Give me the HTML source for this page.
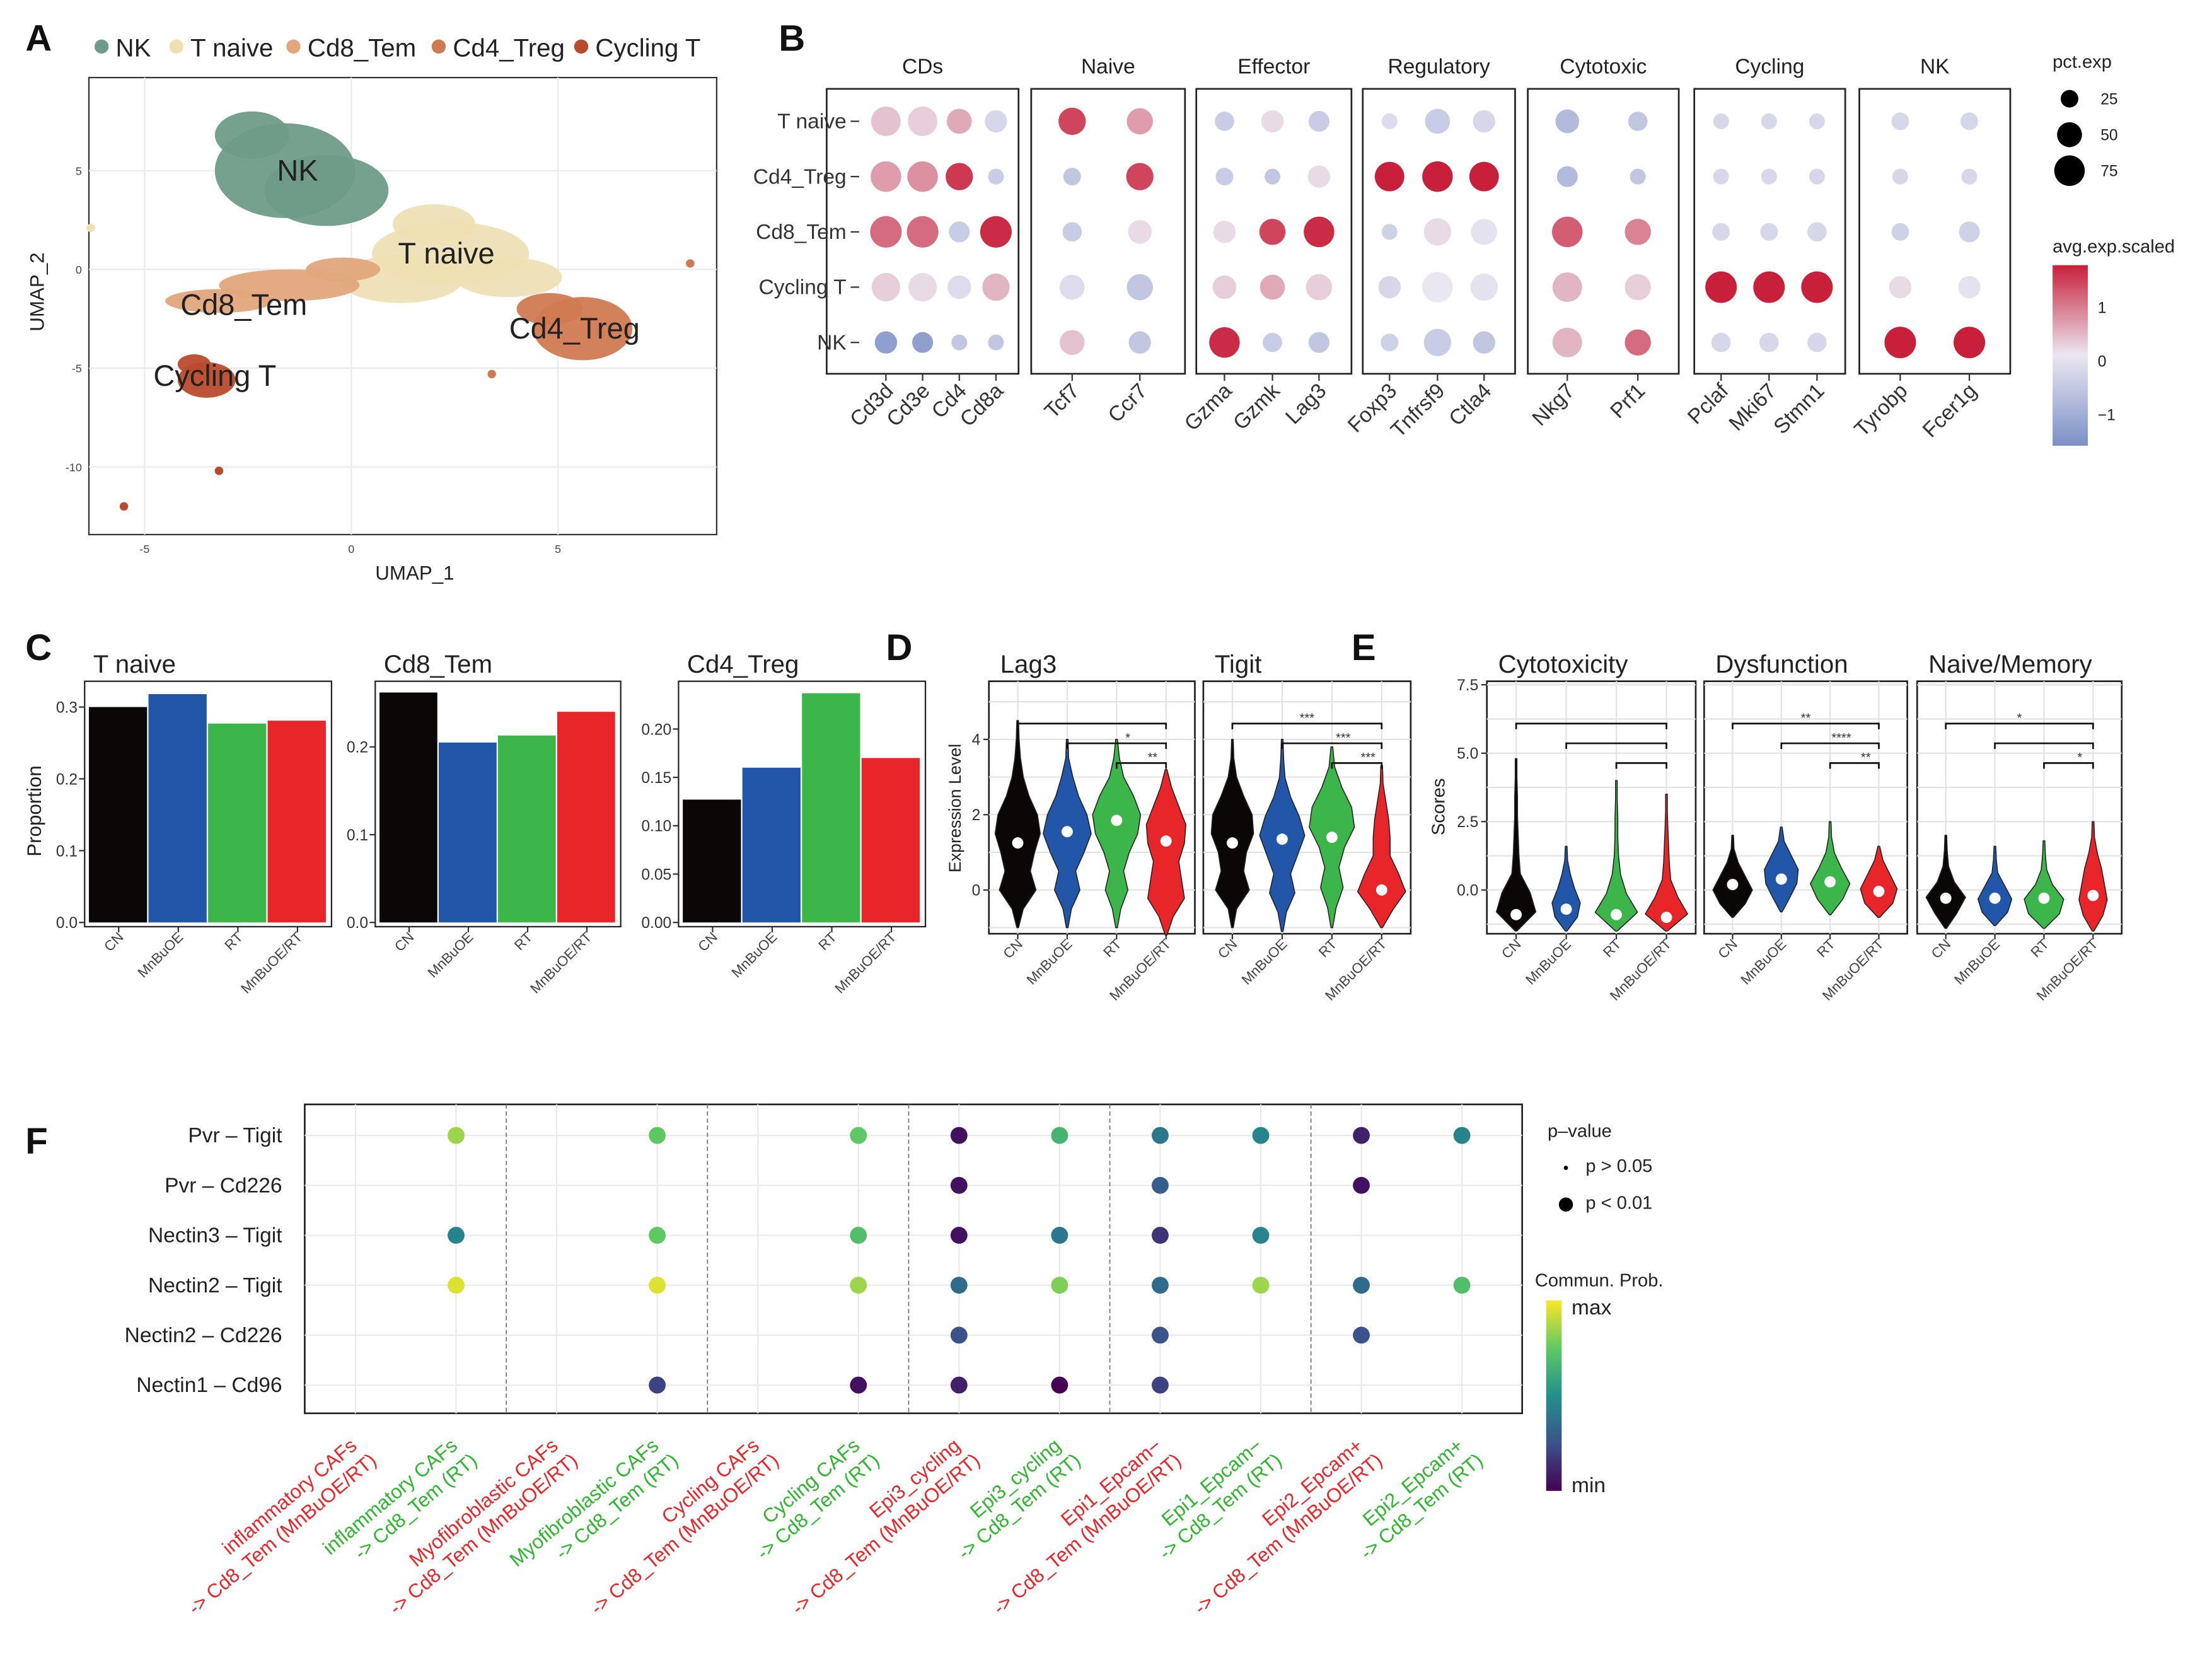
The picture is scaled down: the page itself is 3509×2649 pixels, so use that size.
<!DOCTYPE html>
<html><head><meta charset="utf-8"><style>
html,body{margin:0;padding:0;background:#fff;}
svg{display:block;font-family:"Liberation Sans",sans-serif;}
</style></head><body>
<svg id="fig" width="3509" height="2649" viewBox="0 0 1568 1184" preserveAspectRatio="none" xmlns="http://www.w3.org/2000/svg">
<rect x="0" y="0" width="1568" height="1184" fill="#fff"/>
<g id="gA"></g>
<g id="gB"></g>
<g id="gC"></g>
<g id="gD"></g>
<g id="gE"></g>
<g id="gF"></g>
</svg>
<script>
// ---------- DATA ----------
const umapNames = ["NK","T naive","Cd8_Tem","Cd4_Treg","Cycling T"];
const umapColors = ["#6f9c88","#efe0b4","#e2a77c","#d07a52","#b94b2d"];
const umapBlobs = [
 [0,-1.6,5.0,1.7,2.4],[0,-0.6,4.0,1.5,1.8],[0,-2.4,6.8,0.9,1.2],
 [1,2.4,0.8,1.9,1.6],[1,1.2,-0.5,1.5,1.2],[1,3.8,-0.4,1.3,1.0],[1,2.0,2.3,1.0,1.0],
 [2,-1.5,-0.8,1.7,0.8],[2,-3.2,-1.6,1.3,0.6],[2,-0.2,0.0,0.9,0.6],
 [3,5.6,-3.0,1.2,1.6],[3,4.8,-2.0,0.8,0.8],
 [4,-3.5,-5.6,0.7,0.9],[4,-3.8,-4.8,0.4,0.5]
];
const umapLabels = [["NK",-1.3,5.0],["T naive",2.3,0.8],["Cd8_Tem",-2.6,-1.8],["Cd4_Treg",5.4,-3.0],["Cycling T",-3.3,-5.4]];
const bRows = ["T naive","Cd4_Treg","Cd8_Tem","Cycling T","NK"];
const bGenes = ["Cd3d","Cd3e","Cd4","Cd8a","Tcf7","Ccr7","Gzma","Gzmk","Lag3","Foxp3","Tnfrsf9","Ctla4","Nkg7","Prf1","Pclaf","Mki67","Stmn1","Tyrobp","Fcer1g"];
const bGroups = ["CDs","Naive","Effector","Regulatory","Cytotoxic","Cycling","NK"];
const bGroupSizes = [4,2,3,3,2,3,2];
const bAvg = [
 [0.3,0.2,0.5,-0.3, 1.3,0.6, -0.5,0.1,-0.5, -0.2,-0.5,-0.3, -0.8,-0.6, -0.3,-0.3,-0.3, -0.3,-0.3],
 [0.6,0.7,1.4,-0.5, -0.6,1.3, -0.5,-0.6,0.1, 1.6,1.6,1.6, -0.8,-0.6, -0.3,-0.3,-0.3, -0.3,-0.3],
 [1.0,1.0,-0.5,1.5, -0.5,0.1, 0.1,1.3,1.5, -0.4,0.1,-0.1, 1.1,0.8, -0.3,-0.3,-0.3, -0.4,-0.4],
 [0.2,0.1,-0.2,0.4, -0.2,-0.6, 0.2,0.5,0.2, -0.3,0.0,-0.1, 0.4,0.2, 1.6,1.6,1.6, 0.1,-0.1],
 [-1.3,-1.3,-0.6,-0.6, 0.3,-0.6, 1.5,-0.5,-0.6, -0.4,-0.5,-0.6, 0.4,1.0, -0.3,-0.3,-0.3, 1.6,1.6]
];
const bPct = [
 [70,70,50,40, 60,55, 30,40,35, 20,50,40, 45,30, 20,20,20, 25,25],
 [75,75,60,20, 25,60, 25,20,40, 70,75,70, 35,20, 20,20,20, 20,20],
 [80,80,35,80, 30,45, 40,55,75, 20,60,55, 75,55, 25,25,30, 25,35],
 [65,65,45,60, 50,55, 45,50,55, 40,75,60, 70,55, 80,80,80, 40,40],
 [40,35,20,20, 50,40, 75,30,35, 25,60,40, 70,55, 30,30,30, 80,80]
];
const conds = ["CN","MnBuOE","RT","MnBuOE/RT"];
const condColors = ["#0b0707","#2256a8","#3cb64b","#e8262a"];
const cTitles = ["T naive","Cd8_Tem","Cd4_Treg"];
const cVals = [[0.300,0.318,0.277,0.281],[0.262,0.205,0.213,0.240],[0.127,0.160,0.237,0.170]];
const cTicks = [[0.0,0.1,0.2,0.3],[0.0,0.1,0.2],[0.00,0.05,0.10,0.15,0.20]];
const cMax = [0.33,0.27,0.245];
const dTitles = ["Lag3","Tigit"];
const dTicks = [0,2,4];
const dViol = [
 [[-1.0,4.5,1.25,[0,4,13,9,12,16,14,8,4,2,1,0]],[-1.0,4.0,1.55,[0,3,9,6,12,17,14,8,4,1,0]],[-1.0,4.0,1.85,[0,3,8,5,9,15,17,12,5,2,0]],[-1.2,3.2,1.30,[0,5,13,11,9,13,14,9,4,0]]],
 [[-1.0,4.0,1.25,[0,3,12,8,10,15,14,8,3,1,0]],[-1.1,4.0,1.35,[0,3,9,6,11,16,12,6,2,1,0]],[-1.0,3.8,1.40,[0,3,8,5,9,16,14,7,2,0]],[-1.0,3.3,0.0,[0,8,17,12,6,6,5,3,1,0]]]
];
const dSig = [["","*","**"],["***","***","***"]];
const eTitles = ["Cytotoxicity","Dysfunction","Naive/Memory"];
const eTicks = [0.0,2.5,5.0,7.5];
const eViol = [
 [[-1.5,4.8,-0.9,[0,14,10,3,2,1.5,1,1,0.5,0]],[-1.5,1.6,-0.7,[0,8,10,6,3,1,0]],[-1.5,4.0,-0.9,[0,15,7,3,1.5,1,1,0.5,0]],[-1.5,3.5,-1.0,[0,15,8,3,2,1.5,1,0.5,0]]],
 [[-1.0,2.0,0.2,[0,9,14,9,4,1,0]],[-0.8,2.3,0.4,[0,6,11,12,7,2,0]],[-0.9,2.5,0.3,[0,9,14,8,3,1,0]],[-1.0,1.6,-0.05,[0,10,13,8,3,0]]],
 [[-1.4,2.0,-0.3,[0,8,14,6,2,1,0]],[-1.3,1.6,-0.3,[0,9,12,7,2,1,0]],[-1.4,1.8,-0.3,[0,11,14,6,2,1,0]],[-1.5,2.5,-0.2,[0,7,10,8,6,3,1,0]]]
];
const eSig = [["","",""],["**","****","**"],["*","","*"]];
const fRows = ["Pvr  – Tigit","Pvr  – Cd226","Nectin3  – Tigit","Nectin2  – Tigit","Nectin2  – Cd226","Nectin1  – Cd96"];
const fCols1 = ["inflammatory CAFs","inflammatory CAFs","Myofibroblastic CAFs","Myofibroblastic CAFs","Cycling CAFs","Cycling CAFs","Epi3_cycling","Epi3_cycling","Epi1_Epcam−","Epi1_Epcam−","Epi2_Epcam+","Epi2_Epcam+"];
const fCols2 = ["-> Cd8_Tem (MnBuOE/RT)","-> Cd8_Tem (RT)","-> Cd8_Tem (MnBuOE/RT)","-> Cd8_Tem (RT)","-> Cd8_Tem (MnBuOE/RT)","-> Cd8_Tem (RT)","-> Cd8_Tem (MnBuOE/RT)","-> Cd8_Tem (RT)","-> Cd8_Tem (MnBuOE/RT)","-> Cd8_Tem (RT)","-> Cd8_Tem (MnBuOE/RT)","-> Cd8_Tem (RT)"];
const N = null;
const fProb = [
 [N,0.85,N,0.75,N,0.75,0.05,0.65,0.40,0.45,0.10,0.45],
 [N,N,N,N,N,N,0.05,N,0.30,N,0.05,N],
 [N,0.45,N,0.75,N,0.70,0.05,0.40,0.15,0.45,N,N],
 [N,0.95,N,0.95,N,0.85,0.35,0.80,0.35,0.85,0.35,0.70],
 [N,N,N,N,N,N,0.25,N,0.25,N,0.25,N],
 [N,N,N,0.20,N,0.05,0.10,0.00,0.20,N,N,N]
];

// ---------- HELPERS ----------
const NS="http://www.w3.org/2000/svg";
function mk(parent,tag,attrs,txt){const e=document.createElementNS(NS,tag);for(const k in attrs)e.setAttribute(k,attrs[k]);if(txt!==undefined)e.textContent=txt;parent.appendChild(e);return e;}
function lerp(a,b,t){return a+(b-a)*t;}
function hexRgb(h){return [parseInt(h.substr(1,2),16),parseInt(h.substr(3,2),16),parseInt(h.substr(5,2),16)];}
function grad(stops,t){t=Math.max(0,Math.min(1,t));const n=stops.length-1;const i=Math.min(n-1,Math.floor(t*n));const f=t*n-i;const a=hexRgb(stops[i]),b=hexRgb(stops[i+1]);return "rgb("+[0,1,2].map(k=>Math.round(lerp(a[k],b[k],f))).join(",")+")";}
function bCol(v){return grad(["#7b8fc6","#ebe7f1","#c8203a"],(v+1.6)/3.2);}
const vir=["#440154","#3b528b","#21918c","#5ec962","#fde725"];
function virCol(t){return grad(vir,t);}
function label(g,x,y,t,name){const e=mk(g,"text",{x:x,y:y,"font-size":26,"font-weight":"bold",fill:"#111"},t);}

// ---------- PANEL A ----------
(function(){
 const g=document.getElementById("gA");
 label(g,18,36,"A","panel-a-label");
 const lx=[72,125,208,311,412];
 umapNames.forEach((n,i)=>{
  const d=mk(g,"circle",{cx:lx[i],cy:33,r:5,fill:umapColors[i]});
  const t=mk(g,"text",{x:lx[i]+10,y:40,"font-size":18,fill:"#222"},n);
 });
 const x0=63,y0=55,w=445,h=324;
 const X=v=>249+v*29.3, Y=v=>191-v*14;
 const box=mk(g,"rect",{x:x0,y:y0,width:w,height:h,fill:"#fff",stroke:"#333","stroke-width":1});
 [-5,0,5].forEach(v=>{mk(g,"line",{x1:X(v),x2:X(v),y1:y0,y2:y0+h,stroke:"#ebebeb"});const t=mk(g,"text",{x:X(v),y:392,"font-size":8,"text-anchor":"middle",fill:"#444"},v);});
 [5,0,-5,-10].forEach(v=>{mk(g,"line",{x1:x0,x2:x0+w,y1:Y(v),y2:Y(v),stroke:"#ebebeb"});const t=mk(g,"text",{x:58,y:Y(v)+3,"font-size":8,"text-anchor":"end",fill:"#444"},v);});
 umapBlobs.forEach((b,i)=>{const e=mk(g,"ellipse",{cx:X(b[1]),cy:Y(b[2]),rx:b[3]*29.3,ry:b[4]*14,fill:umapColors[b[0]],"fill-opacity":0.95});});
 [[-5.5,-12,4],[-3.2,-10.2,4],[-6.3,2.1,1],[8.2,0.3,3],[3.4,-5.3,3]].forEach(p=>{mk(g,"circle",{cx:X(p[0]),cy:Y(p[1]),r:3,fill:umapColors[p[2]]});});
 umapLabels.forEach(l=>{const t=mk(g,"text",{x:X(l[1]),y:Y(l[2])+7,"font-size":21,"text-anchor":"middle",fill:"#222"},l[0]);});
 let t=mk(g,"text",{x:294,y:411,"font-size":14,"text-anchor":"middle",fill:"#222"},"UMAP_1");
 t=mk(g,"text",{x:0,y:0,"font-size":14,"text-anchor":"middle",fill:"#222",transform:"translate(31,207) rotate(-90)"},"UMAP_2");
})();

// ---------- PANEL B ----------
(function(){
 const g=document.getElementById("gB");
 label(g,552,36,"B","panel-b-label");
 const boxes=[[586,722],[731,840],[848,958],[966,1074],[1083,1190],[1201,1308],[1318,1425]];
 const geneX=[628,654,680,706,760,808,868,902,935,985,1019,1052,1111,1161,1220,1254,1288,1347,1396];
 const rowY=r=>86+r*39.2;
 bGroups.forEach((gr,k)=>{
  const b=mk(g,"rect",{x:boxes[k][0],y:63,width:boxes[k][1]-boxes[k][0],height:202,fill:"#fff",stroke:"#222","stroke-width":1.2});
  const t=mk(g,"text",{x:(boxes[k][0]+boxes[k][1])/2,y:52,"font-size":15,"text-anchor":"middle",fill:"#222"},gr);
 });
 bRows.forEach((r,i)=>{
  const t=mk(g,"text",{x:600,y:rowY(i)+5,"font-size":15,"text-anchor":"end",fill:"#333"},r);
  mk(g,"line",{x1:603,x2:609,y1:rowY(i),y2:rowY(i),stroke:"#333"});
 });
 bGenes.forEach((gn,j)=>{
  mk(g,"line",{x1:geneX[j],x2:geneX[j],y1:265,y2:270,stroke:"#333"});
  const t=mk(g,"text",{x:0,y:0,"font-size":15,"text-anchor":"end",fill:"#333",transform:`translate(${geneX[j]+6},${278}) rotate(-45)`},gn);
  bRows.forEach((r,i)=>{
   const c=mk(g,"circle",{cx:geneX[j],cy:rowY(i),r:Math.sqrt(bPct[i][j]/100)*12.5,fill:bCol(bAvg[i][j])});
   
   
  });
 });
 let t=mk(g,"text",{x:1455,y:48,"font-size":13,fill:"#222"},"pct.exp");
 [25,50,75].forEach((p,i)=>{const y=70+i*25.5;const c=mk(g,"circle",{cx:1467,cy:y,r:Math.sqrt(p/100)*12.5,fill:"#000"});const tt=mk(g,"text",{x:1489,y:y+4,"font-size":11,fill:"#222"},p);});
 t=mk(g,"text",{x:1455,y:179,"font-size":13,fill:"#222"},"avg.exp.scaled");
 const defs=mk(g,"defs",{});const lg=mk(defs,"linearGradient",{id:"bgrad",x1:0,y1:1,x2:0,y2:0});
 for(let k=0;k<=10;k++){mk(lg,"stop",{offset:k/10,"stop-color":bCol(-1.6+3.2*k/10)});}
 const bar=mk(g,"rect",{x:1455,y:188,width:25,height:128,fill:"url(#bgrad)"});
 [[1,218],[0,256],[-1,294]].forEach(a=>{const tt=mk(g,"text",{x:1487,y:a[1]+4,"font-size":11,fill:"#222"},a[0]===-1?"−1":a[0]);});
})();

// ---------- PANEL C ----------
(function(){
 const g=document.getElementById("gC");
 label(g,18,468,"C","panel-c-label");
 const boxes=[[60,235],[266,440],[481,656]];
 const top=483,bot=657;
 let t=mk(g,"text",{x:0,y:0,"font-size":14,"text-anchor":"middle",fill:"#222",transform:"translate(29,575) rotate(-90)"},"Proportion");
 cTitles.forEach((ti,k)=>{
  const [x0,x1]=boxes[k];
  const Y=v=>654-v/cMax[k]*(654-top-3);
  const tt=mk(g,"text",{x:x0+6,y:477,"font-size":18,fill:"#222"},ti);
  const bw=(x1-x0-6)/4;
  cVals[k].forEach((v,i)=>{
   const r=mk(g,"rect",{x:x0+3+i*bw,y:Y(v),width:bw-1,height:Y(0)-Y(v),fill:condColors[i]});
   
   
   const lt=mk(g,"text",{x:0,y:0,"font-size":10,"text-anchor":"end",fill:"#444",transform:`translate(${x0+3+(i+0.5)*bw+4},${665}) rotate(-45)`},conds[i]);
   mk(g,"line",{x1:x0+3+(i+0.5)*bw,x2:x0+3+(i+0.5)*bw,y1:bot,y2:bot+4,stroke:"#333"});
  });
  const b=mk(g,"rect",{x:x0,y:top,width:x1-x0,height:bot-top,fill:"none",stroke:"#222","stroke-width":1});
  cTicks[k].forEach(v=>{mk(g,"line",{x1:x0-4,x2:x0,y1:Y(v),y2:Y(v),stroke:"#333"});const lt=mk(g,"text",{x:x0-5,y:Y(v)+4,"font-size":11,"text-anchor":"end",fill:"#333"},k==2?v.toFixed(2):v.toFixed(1));});
 });
})();

// ---------- VIOLIN helper ----------
function violinPanel(g,boxes,titles,viols,sigs,ticks,Y,tickFmt,gridVals){
 const top=483,bot=662;
 titles.forEach((ti,k)=>{
  const [x0,x1]=boxes[k];
  const tt=mk(g,"text",{x:x0+8,y:477,"font-size":18,fill:"#222"},ti);
  const fr=mk(g,"rect",{x:x0,y:top,width:x1-x0,height:bot-top,fill:"#fff",stroke:"#222","stroke-width":1.2});
  const xs=[0,1,2,3].map(i=>x0+(x1-x0)*(0.14+i*0.24));
  gridVals.forEach(v=>mk(g,"line",{x1:x0,x2:x1,y1:Y(v),y2:Y(v),stroke:"#e3e3e3"}));
  xs.forEach(x=>mk(g,"line",{x1:x,x2:x,y1:top,y2:bot,stroke:"#e3e3e3"}));
  viols[k].forEach((v,i)=>{
   const [ymin,ymax,med,prof]=v;const n=prof.length-1;const cx=xs[i];
   let l=[],r=[];
   prof.forEach((w,j)=>{const yy=Y(ymin+(ymax-ymin)*j/n);r.push([cx+Math.max(w,0.6),yy]);l.push([cx-Math.max(w,0.6),yy]);});
   let d="M"+cx+","+Y(ymin);
   r.forEach(p=>d+=" L"+p[0].toFixed(1)+","+p[1].toFixed(1));
   d+=" L"+cx+","+Y(ymax);
   l.reverse().forEach(p=>d+=" L"+p[0].toFixed(1)+","+p[1].toFixed(1));
   d+="Z";
   const p=mk(g,"path",{d:d,fill:condColors[i],stroke:"#222","stroke-width":0.7,"stroke-linejoin":"round"});
   
   
   const m=mk(g,"circle",{cx:cx,cy:Y(med),r:4,fill:"#fff"});
   
   
   mk(g,"line",{x1:cx,x2:cx,y1:bot,y2:bot+4,stroke:"#333"});
   const lt=mk(g,"text",{x:0,y:0,"font-size":10,"text-anchor":"end",fill:"#444",transform:`translate(${cx+4},${670}) rotate(-45)`},conds[i]);
  });
  [[0,513],[1,527],[2,541]].forEach((b,j)=>{
   const xa=xs[b[0]],xb=xs[3],y=b[1];
   const br=mk(g,"path",{d:`M${xa},${y+4} L${xa},${y} L${xb},${y} L${xb},${y+4}`,fill:"none",stroke:"#111","stroke-width":1.2});
   if(sigs[k][j]){const st=mk(g,"text",{x:(xs[j]+xb)/2+(j==0?0:8),y:y-1,"font-size":9,"text-anchor":"middle",fill:"#333"},sigs[k][j]);}
  });
 });
 const x0=boxes[0][0];
 ticks.forEach(v=>{mk(g,"line",{x1:x0-4,x2:x0,y1:Y(v),y2:Y(v),stroke:"#333"});const lt=mk(g,"text",{x:x0-6,y:Y(v)+4,"font-size":11,"text-anchor":"end",fill:"#333"},tickFmt(v));});
}
(function(){
 const g=document.getElementById("gD");
 label(g,628,468,"D","panel-d-label");
 const Y=v=>631-v*26.7;
 violinPanel(g,[[701,847],[853,1000]],dTitles,dViol,dSig,dTicks,Y,v=>v,[-1,0,1,2,3,4,5]);
 const t=mk(g,"text",{x:0,y:0,"font-size":12,"text-anchor":"middle",fill:"#222",transform:"translate(681,573) rotate(-90)"},"Expression Level");
})();
(function(){
 const g=document.getElementById("gE");
 label(g,958,468,"E","panel-e-label");
 const Y=v=>631-v*19.4;
 violinPanel(g,[[1054,1202],[1208,1352],[1359,1504]],eTitles,eViol,eSig,eTicks,Y,v=>v.toFixed(1),[-1.25,0,1.25,2.5,3.75,5,6.25,7.5]);
 const t=mk(g,"text",{x:0,y:0,"font-size":13,"text-anchor":"middle",fill:"#222",transform:"translate(1024,572) rotate(-90)"},"Scores");
})();

// ---------- PANEL F ----------
(function(){
 const g=document.getElementById("gF");
 label(g,18,818,"F","panel-f-label");
 const x0=216,x1=1079,y0=783,y1=1002;
 const colX=i=>252+i*71.3, rowY=i=>805+i*35.4;
 const fr=mk(g,"rect",{x:x0,y:y0,width:x1-x0,height:y1-y0,fill:"#fff",stroke:"#222","stroke-width":1.2});
 fCols1.forEach((c,i)=>mk(g,"line",{x1:colX(i),x2:colX(i),y1:y0,y2:y1,stroke:"#eaeaea"}));
 fRows.forEach((r,i)=>mk(g,"line",{x1:x0,x2:x1,y1:rowY(i),y2:rowY(i),stroke:"#eaeaea"}));
 [1,3,5,7,9].forEach(i=>mk(g,"line",{x1:colX(i)+35.6,x2:colX(i)+35.6,y1:y0,y2:y1,stroke:"#777","stroke-dasharray":"3,2","stroke-width":0.8}));
 fRows.forEach((r,i)=>{
  const t=mk(g,"text",{x:200,y:rowY(i)+5,"font-size":15,"text-anchor":"end",fill:"#222","xml:space":"preserve"},r);
  fCols1.forEach((c,j)=>{
   const v=fProb[i][j];if(v===null)return;
   const d=mk(g,"circle",{cx:colX(j),cy:rowY(i),r:6,fill:virCol(v)});
   
   
  });
 });
 fCols1.forEach((c,j)=>{
  const col=j%2==0?"#e8262a":"#2fb52f";
  const t=mk(g,"text",{x:0,y:0,"font-size":14,"text-anchor":"end",fill:col,transform:`translate(${colX(j)+10},${1030}) rotate(-40)`});
  
  
  mk(t,"tspan",{x:-4,dy:-8},c);
  mk(t,"tspan",{x:0,dy:17},fCols2[j]);
 });
 let t=mk(g,"text",{x:1097,y:806,"font-size":13,fill:"#222"},"p–value");
 mk(g,"circle",{cx:1110,cy:828,r:1.5,fill:"#000"});
 mk(g,"circle",{cx:1110,cy:854,r:5,fill:"#000"});
 t=mk(g,"text",{x:1124,y:831,"font-size":13,fill:"#222"},"p > 0.05");
 t=mk(g,"text",{x:1124,y:857,"font-size":13,fill:"#222"},"p < 0.01");
 t=mk(g,"text",{x:1088,y:912,"font-size":13,fill:"#222"},"Commun. Prob.");
 const defs=mk(g,"defs",{});const lg=mk(defs,"linearGradient",{id:"vgrad",x1:0,y1:1,x2:0,y2:0});
 vir.forEach((c,k)=>mk(lg,"stop",{offset:k/4,"stop-color":c}));
 const bar=mk(g,"rect",{x:1096,y:922,width:11,height:135,fill:"url(#vgrad)"});
 t=mk(g,"text",{x:1114,y:932,"font-size":15,fill:"#222"},"max");
 t=mk(g,"text",{x:1114,y:1058,"font-size":15,fill:"#222"},"min");
})();
</script>
</body></html>
